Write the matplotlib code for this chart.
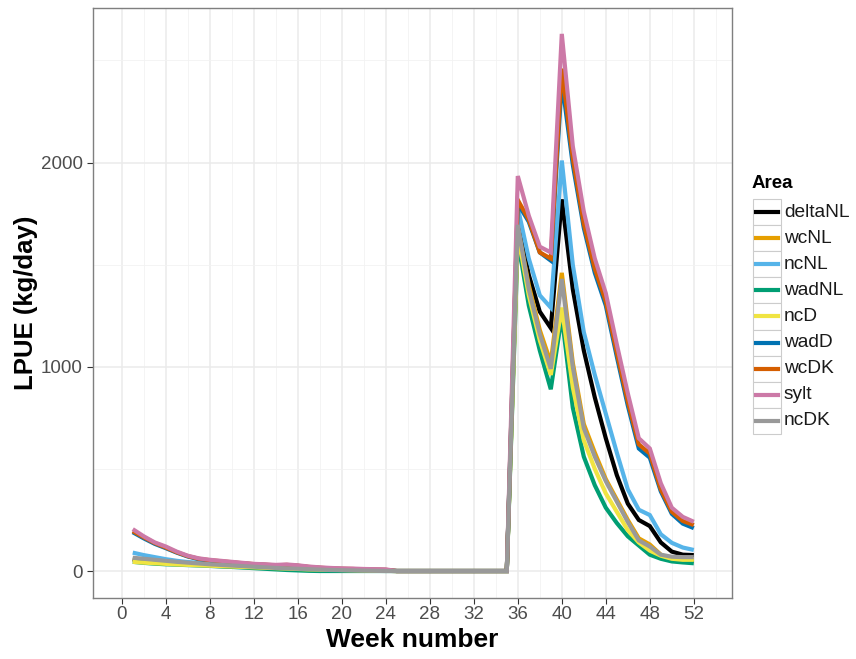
import matplotlib
matplotlib.use("Agg")
import matplotlib.pyplot as plt
from matplotlib.lines import Line2D
from matplotlib.patches import Rectangle

plt.rcParams["font.family"] = ["Liberation Sans", "DejaVu Sans"]

weeks = list(range(1, 53))
areas = ["deltaNL", "wcNL", "ncNL", "wadNL", "ncD", "wadD", "wcDK", "sylt", "ncDK"]
colors = ["#000000", "#E69F00", "#56B4E9", "#009E73", "#F0E442",
          "#0072B2", "#D55E00", "#CC79A7", "#999999"]

# weeks 1-24 (spring), 25-35 closed season, 36-52 (autumn)
closed = [0] * 11

deltaNL = ([58, 52, 47, 43, 39, 35, 32, 29, 26, 24, 21, 19, 17, 15, 14, 12,
            10, 8, 7, 5, 4, 3, 2, 1] + closed +
           [1710, 1450, 1270, 1190, 1820, 1380, 1080, 850, 650, 470, 330,
            250, 220, 140, 95, 80, 78])
wcNL = ([55, 50, 46, 42, 38, 34, 31, 28, 25, 23, 21, 19, 17, 15, 14, 12,
         10, 8, 7, 5, 4, 3, 2, 1] + closed +
        [1680, 1400, 1180, 1020, 1460, 1020, 720, 580, 450, 350, 250,
         160, 130, 80, 55, 50, 50])
ncNL = ([90, 78, 68, 58, 50, 44, 40, 36, 32, 28, 25, 22, 20, 18, 17, 15,
         12, 10, 8, 6, 5, 4, 3, 2] + closed +
        [1780, 1530, 1350, 1290, 2010, 1500, 1170, 960, 770, 580, 400,
         300, 274, 180, 138, 115, 103])
wadNL = ([45, 40, 36, 33, 31, 29, 27, 25, 22, 20, 17, 14, 11, 8, 5, 3,
          1, 0, 0, 0, 0, 0, 0, 0] + closed +
         [1620, 1300, 1080, 890, 1250, 800, 560, 420, 310, 235, 170,
          125, 80, 60, 47, 42, 38])
ncD = ([45, 41, 38, 35, 32, 30, 28, 26, 24, 22, 20, 18, 16, 14, 12, 10,
        8, 7, 6, 5, 4, 3, 2, 1] + closed +
       [1650, 1350, 1130, 960, 1290, 900, 640, 500, 380, 290, 200,
        140, 100, 75, 60, 55, 55])
wadD = ([190, 160, 133, 112, 90, 71, 58, 51, 46, 41, 37, 33, 30, 27, 28, 25,
         19, 15, 12, 10, 9, 7, 6, 5] + closed +
        [1800, 1710, 1560, 1520, 2400, 1990, 1680, 1460, 1300, 1050, 810,
         600, 555, 390, 280, 232, 210])
wcDK = ([195, 165, 137, 115, 92, 73, 60, 53, 48, 43, 38, 34, 31, 28, 30, 26,
         20, 16, 13, 11, 10, 8, 7, 6] + closed +
        [1817, 1720, 1560, 1530, 2460, 2020, 1700, 1480, 1320, 1070, 830,
         620, 575, 400, 290, 245, 225])
sylt = ([205, 170, 140, 120, 95, 75, 62, 55, 50, 45, 40, 35, 33, 30, 32, 28,
         22, 18, 15, 13, 12, 10, 9, 8] + closed +
        [1934, 1740, 1588, 1560, 2630, 2080, 1760, 1530, 1360, 1110, 870,
         650, 600, 430, 310, 265, 241])
ncDK = ([65, 60, 55, 50, 45, 41, 37, 33, 30, 27, 24, 21, 18, 15, 13, 11,
         9, 7, 5, 4, 3, 2, 1, 0] + closed +
        [1695, 1380, 1160, 990, 1430, 1000, 700, 560, 440, 340, 240,
         150, 120, 80, 70, 68, 68])

series = [deltaNL, wcNL, ncNL, wadNL, ncD, wadD, wcDK, sylt, ncDK]

fig = plt.figure(figsize=(8.56, 6.59), dpi=100)
ax = fig.add_axes([0.1083, 0.0926, 0.7472, 0.8953])

for vals, col in zip(series, colors):
    ax.plot(weeks, vals, color=col, lw=3.0, solid_joinstyle="miter",
            solid_capstyle="butt")

ax.set_xlim(-2.64, 55.5)
ax.set_ylim(-132, 2757)
ax.set_xticks(range(0, 53, 4))
ax.set_xticks(range(2, 55, 4), minor=True)
ax.set_yticks([0, 1000, 2000])
ax.set_yticks([500, 1500, 2500], minor=True)
ax.grid(which="major", color="#ebebeb", lw=1.1)
ax.grid(which="minor", color="#f2f2f2", lw=0.6)
ax.set_axisbelow(True)
ax.tick_params(which="major", length=4, width=0.8, color="#333333",
               labelsize=13.5, labelcolor="#4d4d4d", pad=3)
ax.tick_params(axis="x", pad=1.5)
ax.tick_params(which="minor", length=0)
for sp in ax.spines.values():
    sp.set_color("#7f7f7f")
    sp.set_linewidth(1.0)

ax.set_xlabel("Week number", fontsize=19, fontweight="bold", labelpad=4)
ax.set_ylabel("LPUE (kg/day)", fontsize=18.5, fontweight="bold", labelpad=2)

# legend drawn by hand in figure pixels
W, H = 856, 659
fig.text(752 / W, 1 - 183 / H, "Area", fontsize=13.5, fontweight="bold",
         va="center", ha="left")
key_w, key_h = 28, 26.1
top = 199
for i, (name, col) in enumerate(zip(areas, colors)):
    y0 = top + i * key_h
    fig.add_artist(Rectangle((753 / W, 1 - (y0 + key_h) / H), key_w / W,
                             key_h / H, transform=fig.transFigure,
                             facecolor="white", edgecolor="#cccccc", lw=0.8))
    yc = 1 - (y0 + key_h / 2) / H
    fig.add_artist(Line2D([756 / W, 778 / W], [yc, yc], color=col, lw=3.0,
                          transform=fig.transFigure))
    fig.text(784 / W, yc, name, fontsize=13.8, va="center", ha="left",
             color="#1a1a1a")

fig.savefig("out.png", dpi=100)
